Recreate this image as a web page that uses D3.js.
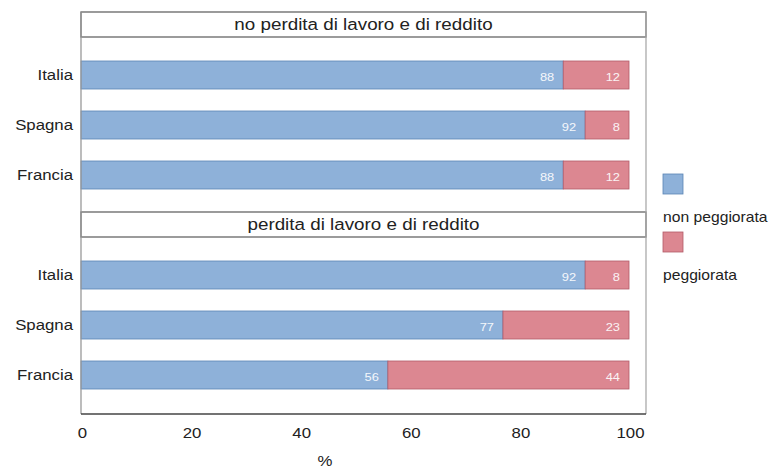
<!DOCTYPE html>
<html><head><meta charset="utf-8">
<script src="https://cdn.jsdelivr.net/npm/d3@7"></script>
<style>body{margin:0;background:#fff}svg{display:block}text{font-family:"Liberation Sans",Arial,sans-serif}</style>
</head><body>
<svg id="c" width="770" height="470"></svg>
<script>
const panels = ["no perdita di lavoro e di reddito", "perdita di lavoro e di reddito"];
const countries = ["Italia", "Spagna", "Francia"];
const nonPeggiorata = [[88, 92, 88], [92, 77, 56]];
const peggiorata = [[12, 8, 12], [8, 23, 44]];
const seriesNames = ["non peggiorata", "peggiorata"];
const colors = ["#8eb1d9", "#dc8791"];
const strokes = ["#5b84b4", "#b25a68"];
const xTicks = [0, 20, 40, 60, 80, 100];

const SX = 1.12;
const svg = d3.select("#c");
const left = 81, right = 646;
const x = d3.scaleLinear().domain([0, 100]).range([81, 629]);
const panelTops = [12, 212];
const headerH = 25;

function txt(g, px, py, s, size, anchor, fill) {
  return g.append("text").attr("transform", `translate(${px},${py}) scale(${SX},1)`)
    .attr("text-anchor", anchor).attr("font-size", size).attr("fill", fill).text(s);
}

panels.forEach((title, p) => {
  const top = panelTops[p];
  const g = svg.append("g");
  const y = d3.scaleBand().domain(countries).range([top + headerH + 24, top + headerH + 24 + 128])
    .paddingInner(0.44).paddingOuter(0);
  g.append("rect").attr("x", left).attr("y", top).attr("width", right - left).attr("height", headerH)
    .attr("fill", "#fff").attr("stroke", "#666").attr("stroke-width", 1.3);
  txt(g, (left + right) / 2, top + 18, title, 16.8, "middle", "#222");
  countries.forEach((c, i) => {
    const yy = y(c), h = y.bandwidth();
    const v1 = nonPeggiorata[p][i], v2 = peggiorata[p][i];
    g.append("rect").attr("x", x(0)).attr("y", yy).attr("width", x(v1) - x(0)).attr("height", h)
      .attr("fill", colors[0]).attr("stroke", strokes[0]).attr("stroke-width", 0.8);
    g.append("rect").attr("x", x(v1)).attr("y", yy).attr("width", x(v1 + v2) - x(v1)).attr("height", h)
      .attr("fill", colors[1]).attr("stroke", strokes[1]).attr("stroke-width", 0.8);
    txt(g, x(v1) - 9, yy + h / 2 + 5.5, v1, 11.5, "end", "#f4f7fb");
    txt(g, x(v1 + v2) - 9, yy + h / 2 + 5.5, v2, 11.5, "end", "#fbf3f4");
    txt(g, 73, yy + h / 2 + 5, c, 15, "end", "#222");
  });
});
svg.append("line").attr("x1", left).attr("x2", left).attr("y1", 12).attr("y2", 414).attr("stroke", "#999").attr("stroke-width", 1.3);
svg.append("line").attr("x1", right).attr("x2", right).attr("y1", 12).attr("y2", 414).attr("stroke", "#aaa").attr("stroke-width", 1.3);
svg.append("line").attr("x1", left).attr("x2", right).attr("y1", 414).attr("y2", 414).attr("stroke", "#444").attr("stroke-width", 1.5);

const axis = d3.axisBottom(x).tickValues(xTicks).tickSize(0).tickPadding(0);
const ax = svg.append("g").attr("transform", "translate(1,438)").call(axis);
ax.select(".domain").remove();
ax.selectAll("text").attr("font-size", 15).attr("fill", "#222")
  .attr("font-family", "Liberation Sans, Arial, sans-serif").attr("y", 0).attr("dy", 0)
  .attr("transform", `scale(${SX},1)`);
txt(svg, 325, 466, "%", 15, "middle", "#222");

const leg = [[174, 222], [232, 280]];
seriesNames.forEach((s, i) => {
  svg.append("rect").attr("x", 663).attr("y", leg[i][0]).attr("width", 20).attr("height", 20)
    .attr("fill", colors[i]).attr("stroke", strokes[i]).attr("stroke-width", 0.8);
  txt(svg, 663, leg[i][1], s, 14, "start", "#222");
});
</script>
</body></html>
